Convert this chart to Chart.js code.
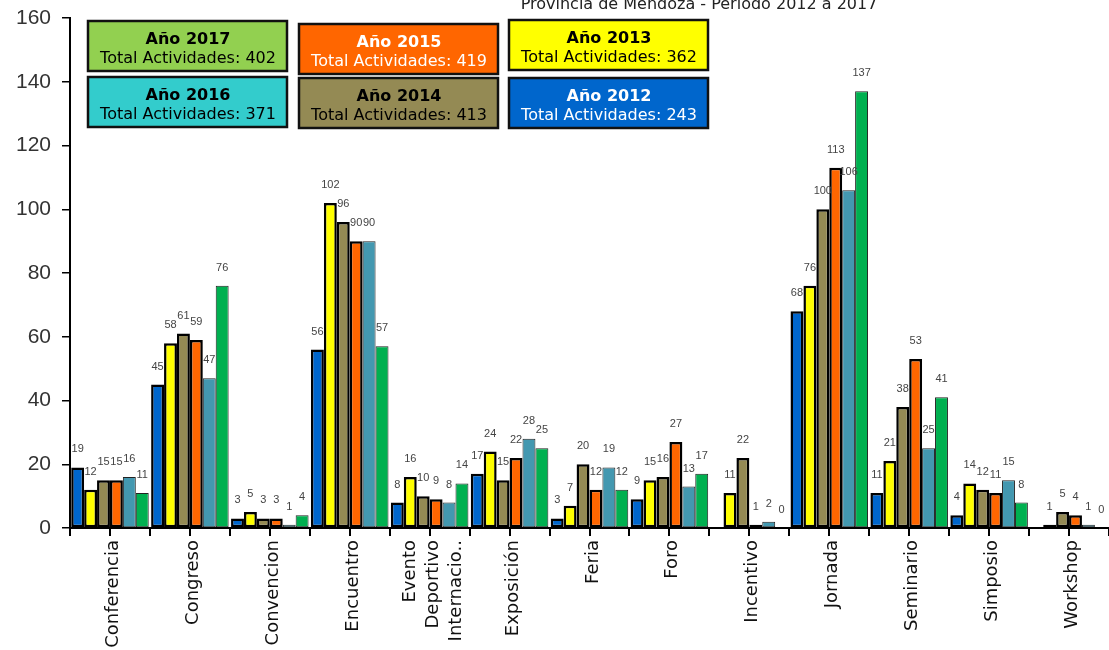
<!DOCTYPE html>
<html>
<head>
<meta charset="utf-8">
<script src="https://cdn.jsdelivr.net/npm/chart.js@4.4.1/dist/chart.umd.min.js"></script>
<style>
  html, body { margin: 0; padding: 0; background: #fff; }
  #wrap { width: 1109px; height: 650px; position: relative; }
</style>
</head>
<body>
<div id="wrap"><canvas id="eventosChart" width="1109" height="650"></canvas></div>
<script>
// categorias (tipo de evento)
var categorias = ['Conferencia', 'Congreso', 'Convencion', 'Encuentro', ['Evento', 'Deportivo', 'Internacio..'], 'Exposición', 'Feria', 'Foro', 'Incentivo', 'Jornada', 'Seminario', 'Simposio', 'Workshop'];

// actividades por año
var anio2012 = [19, 45, 3, 56, 8, 17, 3, 9, null, 68, 11, 4, null];
var anio2013 = [12, 58, 5, 102, 16, 24, 7, 15, 11, 76, 21, 14, 1];
var anio2014 = [15, 61, 3, 96, 10, 15, 20, 16, 22, 100, 38, 12, 5];
var anio2015 = [15, 59, 3, 90, 9, 22, 12, 27, 1, 113, 53, 11, 4];
var anio2016 = [16, 47, 1, 90, 8, 28, 19, 13, 2, 106, 25, 15, 1];
var anio2017 = [11, 76, 4, 57, 14, 25, 12, 17, 0, 137, 41, 8, 0];

var yTicks = [0, 20, 40, 60, 80, 100, 120, 140, 160];
var titulo = 'Provincia de Mendoza - Periodo 2012 a 2017';

function total(arr) {
    return arr.reduce(function(a, b) { return a + (b || 0); }, 0);
}

// cuadros de leyenda (orden como en la imagen)
var cuadros = [
    { label: 'Año 2017', data: anio2017, fill: '#92D050', text: '#000', x: 88, y: 21 },
    { label: 'Año 2015', data: anio2015, fill: '#FF6600', text: '#fff', x: 299, y: 24 },
    { label: 'Año 2013', data: anio2013, fill: '#FFFF00', text: '#000', x: 509, y: 20 },
    { label: 'Año 2016', data: anio2016, fill: '#33CCCC', text: '#000', x: 88, y: 77 },
    { label: 'Año 2014', data: anio2014, fill: '#948A54', text: '#000', x: 299, y: 78 },
    { label: 'Año 2012', data: anio2012, fill: '#0066CC', text: '#fff', x: 509, y: 78 }
];

var valueLabels = {
    id: 'valueLabels',
    afterDatasetsDraw: function(chart) {
        var ctx = chart.ctx;
        ctx.save();
        ctx.font = '11px "Liberation Sans", Arial, sans-serif';
        ctx.fillStyle = '#444';
        ctx.textAlign = 'center';
        ctx.textBaseline = 'middle';
        chart.data.datasets.forEach(function(ds, i) {
            var meta = chart.getDatasetMeta(i);
            meta.data.forEach(function(bar, j) {
                var v = ds.data[j];
                if (v === null || v === undefined) return;
                ctx.fillText(String(v), bar.x, bar.y - 18);
            });
        });
        ctx.restore();
    }
};

var extras = {
    id: 'extras',
    afterDraw: function(chart) {
        var ctx = chart.ctx;
        var xs = chart.scales.x;
        ctx.save();
        // marcas en el centro de cada categoria + etiquetas verticales
        ctx.strokeStyle = '#000';
        ctx.lineWidth = 2;
        for (var i = 0; i < categorias.length; i++) {
            var px = Math.round(xs.getPixelForValue(i));
            ctx.beginPath();
            ctx.moveTo(px, xs.top);
            ctx.lineTo(px, xs.top + 8);
            ctx.stroke();

            var lineas = Array.isArray(categorias[i]) ? categorias[i] : [categorias[i]];
            ctx.save();
            ctx.translate(px + 3, xs.top + 12);
            ctx.rotate(-Math.PI / 2);
            ctx.font = '18px "DejaVu Sans", sans-serif';
            ctx.fillStyle = '#111';
            ctx.textAlign = 'right';
            ctx.textBaseline = 'middle';
            lineas.forEach(function(t, k) {
                ctx.fillText(t, 0, (k - (lineas.length - 1) / 2) * 23);
            });
            ctx.restore();
        }
        // titulo (cortado arriba)
        ctx.fillStyle = '#222';
        ctx.font = '16px "DejaVu Sans", sans-serif';
        ctx.textAlign = 'center';
        ctx.textBaseline = 'alphabetic';
        ctx.fillText(titulo, 699, 9);
        // leyenda
        cuadros.forEach(function(c) {
            ctx.fillStyle = c.fill;
            ctx.fillRect(c.x, c.y, 199, 50);
            ctx.strokeStyle = '#111';
            ctx.lineWidth = 2.5;
            ctx.strokeRect(c.x, c.y, 199, 50);
            ctx.fillStyle = c.text;
            ctx.textBaseline = 'middle';
            ctx.font = 'bold 16px "DejaVu Sans", sans-serif';
            ctx.fillText(c.label, c.x + 100, c.y + 19);
            ctx.font = '16px "DejaVu Sans", sans-serif';
            ctx.fillText('Total Actividades: ' + total(c.data), c.x + 100, c.y + 38);
        });
        ctx.restore();
    }
};

function serie(label, data, color, thick) {
    return {
        label: label,
        data: data,
        backgroundColor: color,
        borderColor: thick ? '#000' : '#222',
        borderWidth: thick ? 2.5 : 1,
        borderSkipped: false,
        categoryPercentage: 0.97,
        barPercentage: 1.0
    };
}

var ctx = document.getElementById('eventosChart').getContext('2d');
var eventosChart = new Chart(ctx, {
    type: 'bar',
    data: {
        labels: categorias,
        datasets: [
            serie('2012', anio2012, '#0066CC', true),
            serie('2013', anio2013, '#FFFF00', true),
            serie('2014', anio2014, '#948A54', true),
            serie('2015', anio2015, '#FF6600', true),
            serie('2016', anio2016, '#4398B0', false),
            serie('2017', anio2017, '#00B050', false)
        ]
    },
    options: {
        responsive: false,
        animation: false,
        layout: { padding: { top: 18, right: 0, left: 0, bottom: 0 } },
        plugins: {
            legend: { display: false },
            tooltip: { enabled: false },
            title: { display: false }
        },
        scales: {
            x: {
                grid: { display: true, drawOnChartArea: false, offset: true, color: '#000', lineWidth: 2, tickLength: 8 },
                border: { display: true, color: '#000', width: 2 },
                ticks: { display: false },
                afterFit: function(scale) { scale.height = 122; }
            },
            y: {
                min: 0,
                max: 160,
                afterBuildTicks: function(scale) {
                    scale.ticks = yTicks.map(function(v) { return { value: v }; });
                },
                grid: { display: true, drawOnChartArea: false, color: '#000', lineWidth: 1.5, tickLength: 8 },
                border: { display: true, color: '#000', width: 2 },
                ticks: {
                    padding: 11,
                    color: '#333',
                    font: { family: '"Liberation Sans", Arial, sans-serif', size: 21, lineHeight: 1 }
                },
                afterFit: function(scale) {
                    scale.width = 70;
                    scale.paddingTop = 0;
                    scale.paddingBottom = 0;
                }
            }
        }
    },
    plugins: [valueLabels, extras]
});
</script>
</body>
</html>
